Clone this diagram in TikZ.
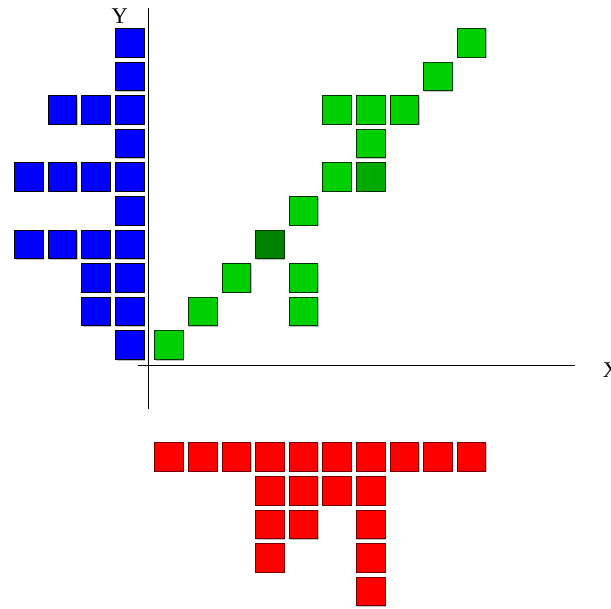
\documentclass[tikz,border=0pt]{standalone}
\usepackage{fontspec}
\setmainfont{Liberation Serif}
\usepackage{tikz}
\usetikzlibrary{shadows}
\definecolor{cellblue}{RGB}{0,0,255}
\definecolor{cellgreen}{RGB}{0,208,0}
\definecolor{cellmid}{RGB}{0,170,0}
\definecolor{celldark}{RGB}{0,130,0}
\definecolor{cellred}{RGB}{255,0,0}
\tikzset{
    cell/.style={draw, rectangle, line width=0.7pt, minimum size=0.85cm, inner sep=0pt,
        drop shadow={shadow xshift=0.9pt, shadow yshift=-0.9pt, fill=black!25, opacity=1}},
    bluecell/.style={cell, fill=cellblue, draw=black},
    greencell/.style={cell, fill=cellgreen, draw=cellgreen!25!black},
    midcell/.style={cell, fill=cellmid, draw=cellmid!25!black},
    darkcell/.style={cell, fill=celldark, draw=celldark!40!black},
    redcell/.style={cell, fill=cellred, draw=cellred!45!black},
    axis/.style={line width=0.8pt},
    axislabel/.style={font=\fontsize{19}{19}\selectfont, inner sep=0pt}
}

\begin{document}
\begin{tikzpicture}
    \useasboundingbox (-5.03,-7.83) rectangle (13.15,10.27);

    % axes
    \coordinate (xstart) at (-0.92,-0.6);
    \coordinate (xend) at (12.08,-0.6);
    \coordinate (ytop) at (-0.6,10.03);
    \coordinate (ybottom) at (-0.6,-1.9);
    \draw [axis] (xstart) -- (xend);
    \draw [axis] (ybottom) -- (ytop);
    \node (ylabel) [axislabel] at (-1.47,9.78) {Y};
    \node (xlabel) [axislabel] at (13.15,-0.75) {X};

    % blue cells, left of the Y axis
    \foreach \r/\n in {9/1,8/1,7/3,6/1,5/4,4/1,3/4,2/2,1/2,0/1}
        \foreach \k in {1,...,\n}
            \node (b-\r-\k) [bluecell] at (-0.17-\k,\r) {};

    % green cells
    \foreach \c/\r in {0/0,1/1,2/2,4/1,4/2,4/4,5/5,6/6,5/7,6/7,7/7,8/8,9/9}
        \node (g-\c-\r) [greencell] at (\c,\r) {};
    \node (g-6-5) [midcell] at (6,5) {};
    \node (g-3-3) [darkcell] at (3,3) {};

    % red cells, below the X axis
    \foreach \c/\n in {0/1,1/1,2/1,3/4,4/3,5/2,6/5,7/1,8/1,9/1}
        \foreach \k in {1,...,\n}
            \node (r-\c-\k) [redcell] at (\c,-2.33-\k) {};
\end{tikzpicture}
\end{document}
